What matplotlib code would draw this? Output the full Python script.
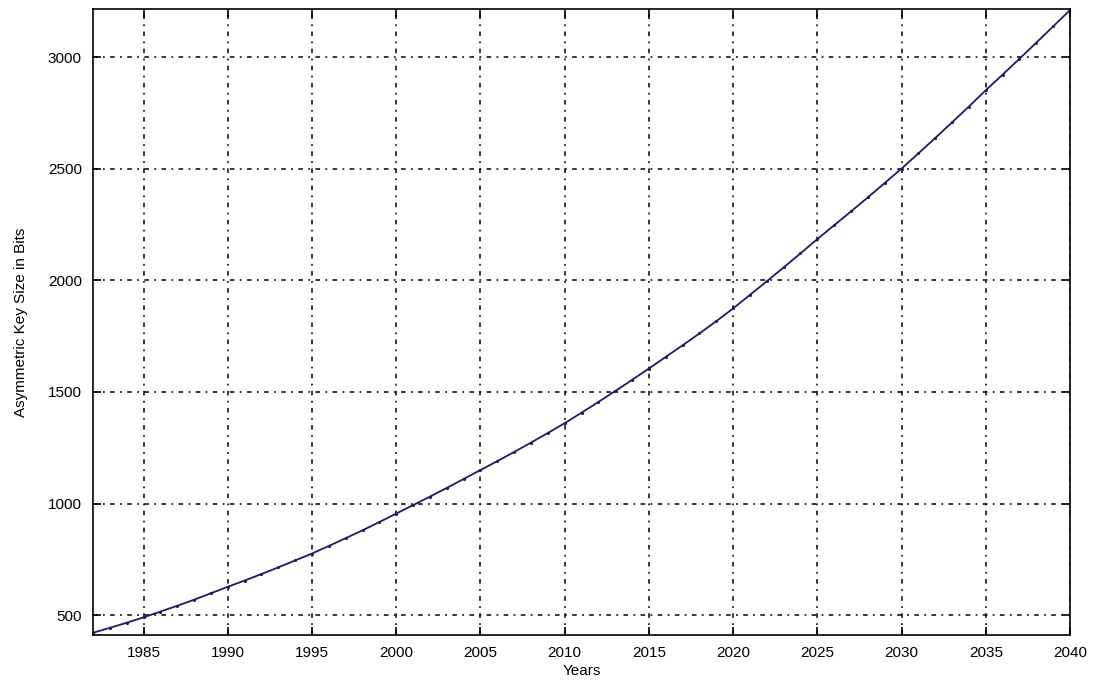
import matplotlib
matplotlib.use("Agg")
import matplotlib.pyplot as plt

years = list(range(1982, 2041))
key_bits = [421, 443, 466, 490, 516, 542, 569, 598, 627, 655,
            684, 714, 745, 776, 810, 845, 880, 917, 955, 993,
            1031, 1070, 1110, 1150, 1190, 1231, 1273, 1316, 1360, 1407,
            1455, 1504, 1554, 1605, 1657, 1709, 1762, 1817, 1874, 1935,
            1996, 2058, 2121, 2185, 2247, 2309, 2372, 2436, 2501, 2569,
            2638, 2708, 2779, 2852, 2922, 2993, 3065, 3138, 3211]
x_ticks = [1985, 1990, 1995, 2000, 2005, 2010, 2015, 2020, 2025, 2030, 2035, 2040]
y_ticks = [500, 1000, 1500, 2000, 2500, 3000]

plt.rcParams['font.family'] = ['Liberation Sans', 'DejaVu Sans']

fig = plt.figure(figsize=(11, 6.81), dpi=100)
ax = fig.add_axes([93/1100, 46/681, 977/1100, 626/681])

ax.plot(years, key_bits, color='#1c1c66', lw=1.3, marker='.', markersize=2.5,
        solid_joinstyle='round')

ax.set_xlim(years[0], years[-1])
ax.set_ylim(key_bits[0] - 10, key_bits[-1] + 5)
ax.set_xticks(x_ticks)
ax.set_yticks(y_ticks)

ax.grid(True, color='black', lw=1.1, linestyle=(0, (3, 3.5, 1.2, 3.5)))
ax.tick_params(direction='in', length=6, width=1.2, top=True, right=True,
               labelsize=11, colors='black')
ax.tick_params(axis='x', pad=8)
ax.tick_params(axis='y', pad=8)
for s in ax.spines.values():
    s.set_linewidth(1.2)

ax.set_xlabel('Years', fontsize=11, labelpad=3)
ax.set_ylabel('Asymmetric Key Size in Bits', fontsize=11, labelpad=14)

fig.savefig('out.png', dpi=100)
